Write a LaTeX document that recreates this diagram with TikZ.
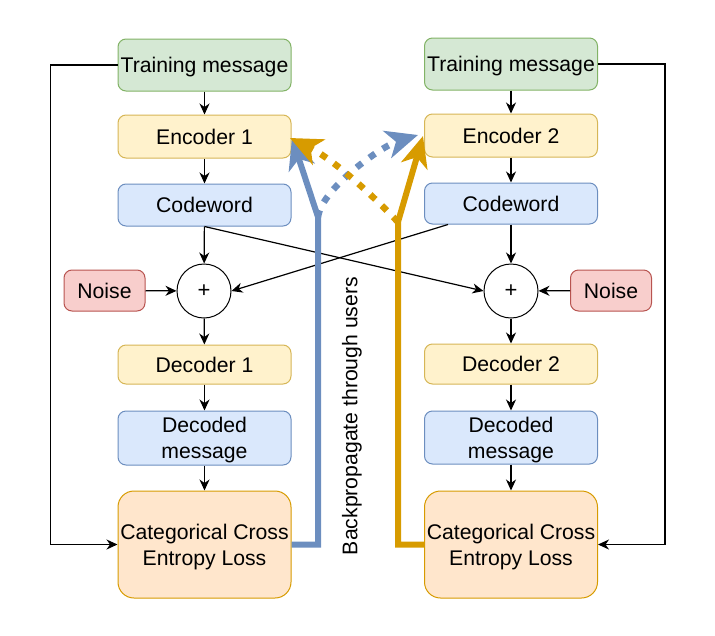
\documentclass[tikz,border=0pt]{standalone}
\usepackage{fontspec}
\setmainfont{Liberation Sans}
\usetikzlibrary{arrows.meta}
\definecolor{gfill}{HTML}{D5E8D4}\definecolor{gline}{HTML}{82B366}
\definecolor{yfill}{HTML}{FFF2CC}\definecolor{yline}{HTML}{D6B656}
\definecolor{bfill}{HTML}{DAE8FC}\definecolor{bline}{HTML}{6C8EBF}
\definecolor{rfill}{HTML}{F8CECC}\definecolor{rline}{HTML}{B85450}
\definecolor{ofill}{HTML}{FFE6CC}\definecolor{oline}{HTML}{D79B00}
\begin{document}
\begin{tikzpicture}[x=1pt,y=-1pt,
  box/.style={draw, rounded corners=8pt, minimum width=173pt, inner sep=0pt, align=center, text depth=0pt, line width=1pt, font=\fontsize{21.2}{26}\selectfont},
  gbox/.style={box, fill=gfill, draw=gline},
  ybox/.style={box, fill=yfill, draw=yline},
  bbox/.style={box, fill=bfill, draw=bline},
  rbox/.style={box, fill=rfill, draw=rline, minimum width=81pt, minimum height=41pt},
  obox/.style={box, fill=ofill, draw=oline, rounded corners=16pt, minimum height=107pt},
  sumnode/.style={draw, circle, fill=white, minimum size=54pt, inner sep=0pt, line width=1pt, font=\fontsize{22}{24}\selectfont},
  arr/.style={line width=1.2pt, -{Stealth[length=11pt,width=10pt,inset=3.5pt]}},
  thickb/.style={line width=6pt, draw=bline, line join=miter, -{Stealth[length=31pt,width=27pt,inset=9pt,fill=bline]}},
  thicko/.style={line width=6pt, draw=oline, line join=miter, -{Stealth[length=31pt,width=27pt,inset=9pt,fill=oline]}},
  dotb/.style={line width=6.5pt, draw=bline, dash pattern=on 7pt off 9pt, -{Stealth[length=32pt,width=28pt,inset=9pt,fill=bline]}},
  doto/.style={line width=6.5pt, draw=oline, dash pattern=on 7pt off 9pt, -{Stealth[length=32pt,width=28pt,inset=9pt,fill=oline]}}
]
\useasboundingbox (0,0) rectangle (715,635);
% left column
\node[gbox, minimum height=52pt] (tm1) at (204.5,65) {Training message};
\node[ybox, minimum height=43pt] (enc1) at (204.5,136.5) {Encoder 1};
\node[bbox, minimum height=42pt] (cw1) at (204.5,205) {Codeword};
\node[sumnode] (s1) at (204,291) {+};
\node[rbox] (n1) at (104.5,290.5) {Noise};
\node[ybox, minimum height=39pt] (dec1) at (204.5,364.5) {Decoder 1};
\node[bbox, minimum height=54pt] (dm1) at (204.5,438) {Decoded\\message};
\node[obox] (l1) at (204.5,544.5) {Categorical Cross\\Entropy Loss};
% right column
\node[gbox, minimum height=52pt] (tm2) at (511,64) {Training message};
\node[ybox, minimum height=43pt] (enc2) at (511,135.5) {Encoder 2};
\node[bbox, minimum height=41pt] (cw2) at (511,203.5) {Codeword};
\node[sumnode] (s2) at (511,291) {+};
\node[rbox] (n2) at (611,290.5) {Noise};
\node[ybox, minimum height=40pt] (dec2) at (511,364) {Decoder 2};
\node[bbox, minimum height=53pt] (dm2) at (511,437.5) {Decoded\\message};
\node[obox] (l2) at (511,544.5) {Categorical Cross\\Entropy Loss};
% label
\node[rotate=90, font=\fontsize{21.2}{25}\selectfont] (bp) at (352,416) {Backpropagate through users};
% thin connectors
\foreach \a/\b in {tm1/enc1,enc1/cw1,cw1/s1,n1/s1,s1/dec1,dec1/dm1,dm1/l1,tm2/enc2,enc2/cw2,cw2/s2,n2/s2,s2/dec2,dec2/dm2,dm2/l2}
  \draw[arr] (\a) -- (\b);
\draw[arr] (tm1.west) -- ++(-67,0) |- (l1.west);
\draw[arr] (tm2.east) -- ++(67,0) |- (l2.east);
\draw[arr] (cw1.south) -- (s2.west);
\draw[arr] ([xshift=-63pt]cw2.south) -- (s1.east);
% backprop
\coordinate (bb) at (318,217);
\coordinate (ob) at (398,222);
\coordinate (bt) at (292,138);
\coordinate (ot) at (423,136);
\coordinate (bt2) at (418,135);
\coordinate (ot2) at (290,138);
\draw[thickb] (l1.east) -- (318,544.5) -- (bb) -- (bt);
\draw[dotb] (bb) .. controls (322,188) and (382,146) .. (bt2);
\draw[thicko] (l2.west) -- (398,544.5) -- (ob) -- (ot);
\draw[doto] (ob) .. controls (375,198) and (335,160) .. (ot2);
\end{tikzpicture}
\end{document}
